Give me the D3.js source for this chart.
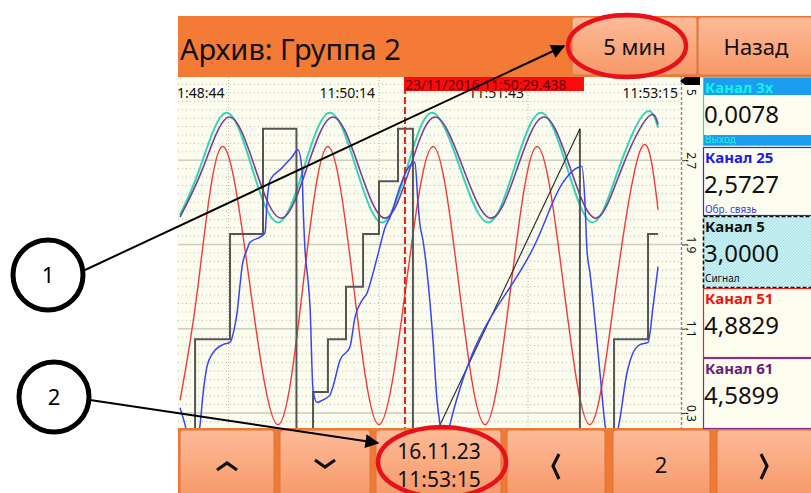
<!DOCTYPE html>
<html>
<head>
<meta charset="utf-8">
<script src="https://cdn.jsdelivr.net/npm/d3@7"></script>
<style>
  body { margin: 0; background: #fff; }
  svg { display: block; font-family: "Noto Sans", "DejaVu Sans", sans-serif; }
</style>
</head>
<body>
<svg id="chart" width="811" height="493"></svg>
<script>
// time axis: seconds since 11:48:15, window = 5 min
const timeTickSec = [29, 119, 208, 300];
const timeTickLabels = ["11:48:44", "11:50:14", "11:51:43", "11:53:15"];
const valueTicks = [0.3, 1.1, 1.9, 2.7, 3.5];
const valueTickLabels = ["0,3", "1,1", "1,9", "2,7", "5"];

// Канал 3x (teal)
const chan3x = [[0,2.18],[12,2.63],[27.5,3.15],[43,2.63],[58.6,2.11],[74.1,2.63],[89.6,3.15],[105.2,2.63],
  [120.7,2.11],[135.7,2.63],[150.6,3.15],[167.3,2.63],[184.1,2.11],[199.9,2.63],[215.7,3.15],[231.3,2.63],
  [246.8,2.11],[262.4,2.63],[277.9,3.15],[285.7,3.01]];
// Канал 61 (purple)
const chan61 = [[0,2.16],[13.8,2.63],[29.3,3.11],[44.8,2.63],[60.4,2.15],[75.9,2.63],[91.4,3.11],[107,2.63],
  [122.5,2.15],[137.5,2.63],[152.4,3.11],[169.1,2.63],[185.9,2.15],[201.7,2.63],[217.5,3.11],[233.1,2.63],
  [248.6,2.15],[264.2,2.63],[279.7,3.11],[285.7,3.04]];
// Канал 51 (red)
const chan51 = [[0,0.42],[10.8,1.51],[25.1,2.83],[41.8,1.51],[58.6,0.19],[73.5,1.51],[88.4,2.83],[103.7,1.51],
  [118.9,0.19],[135.1,1.51],[151.2,2.83],[166.7,1.51],[182.3,0.19],[197.8,1.51],[213.4,2.83],[229.2,1.51],
  [245,0.19],[260.6,1.51],[276.1,2.83],[285.7,2.23]];
// Канал 25 (blue)
const chan25 = [[0,0.35],[3,0.19],[7.2,-0.1],[12,0.19],[13.7,0.47],[16.1,0.74],[19.7,0.87],[25.7,0.95],
  [29.9,0.97],[32.3,1.09],[34.1,1.25],[35.9,1.52],[37.1,1.69],[40,1.85],[41.8,1.92],[47.8,1.97],[50.8,2.01],
  [52,2.3],[53.8,2.51],[59.8,2.61],[66.9,2.73],[70.5,2.8],[72.9,2.61],[73.5,2.3],[74.7,1.85],[76.5,1.56],
  [77.7,1.31],[79.5,0.52],[81.9,0.4],[84.9,0.42],[89.6,0.47],[91.4,0.55],[95.6,0.8],[101.6,0.93],[104.6,1.21],
  [108.8,1.37],[111.8,1.44],[114.7,1.59],[119.5,1.88],[122.5,2.06],[125.5,2.16],[131.5,2.45],[135.7,2.61],
  [140.4,2.68],[142.2,2.3],[143.4,2.09],[145.2,1.94],[151.2,0.99],[153.6,0.42],[155.4,0.19],[158.4,0],
  [161.3,0.19],[213.3,1.94],[228.9,2.49],[240.2,2.64],[242,2.3],[243.2,1.85],[245,1.63],[251,0.68],
  [254,0.19],[258.2,-0.05],[262.3,0.19],[267.1,0.68],[270.7,0.87],[274.9,0.95],[279.7,0.97],[282.7,1.31],
  [285.7,1.69]];
// Канал 5 (steps, then a ramp, then steps)
const chan5Steps1 = [[0,0.1],[9,0.1],[9,1.0],[29.9,1.0],[29.9,2.0],[49.6,2.0],[49.6,3.0],[69.6,3.0],[69.6,0.1],
  [79.5,0.1],[79.5,0.5],[88.4,0.5],[88.4,1.0],[99.2,1.0],[99.2,1.5],[109.4,1.5],[109.4,2.0],[118.9,2.0],
  [118.9,2.5],[130.3,2.5],[130.3,3.0],[139.2,3.0],[139.2,0.1],[152.8,0.1]];
const chan5Ramp = [[152.8,0.1],[239,3.0]];
const chan5Steps2 = [[239,3.0],[239,0.1],[259.4,0.1],[259.4,1.0],[279.7,1.0],[279.7,2.0],[285.7,2.0]];

const cursorSec = 134.44;
const cursorLabel = "23/11/2016 11:50:29.438";

const channelNames = ["Канал 3x", "Канал 25", "Канал 5", "Канал 51", "Канал 61"];
const channelValues = ["0,0078", "2,5727", "3,0000", "4,8829", "4,5899"];
const channelNotes = ["Выход", "Обр. связь", "Сигнал", "", ""];

const svg = d3.select("#chart");
const defs = svg.append("defs");

// button gradient
const grad = defs.append("linearGradient").attr("id", "btn").attr("x1", 0).attr("y1", 0).attr("x2", 0).attr("y2", 1);
grad.append("stop").attr("offset", "0%").attr("stop-color", "#fdbb98");
grad.append("stop").attr("offset", "100%").attr("stop-color", "#f79868");

const hatch = defs.append("pattern").attr("id", "hatch").attr("width", 3).attr("height", 3)
  .attr("patternUnits", "userSpaceOnUse");
hatch.append("rect").attr("width", 3).attr("height", 3).attr("fill", "#c9f0f2");
hatch.append("path").attr("d", "M0,3 L3,0").attr("stroke", "#a8e2e6").attr("stroke-width", 1);

defs.append("marker").attr("id", "arrow").attr("viewBox", "0 0 10 10")
  .attr("refX", 9).attr("refY", 5).attr("markerWidth", 8).attr("markerHeight", 7)
  .attr("markerUnits", "strokeWidth").attr("orient", "auto")
  .append("path").attr("d", "M0,0 L10,5 L0,10 z").attr("fill", "#000");

defs.append("clipPath").attr("id", "plotClip")
  .append("rect").attr("x", 178).attr("y", 77).attr("width", 503).attr("height", 351);

// screen frame
svg.append("rect").attr("x", 178).attr("y", 16).attr("width", 633).attr("height", 61).attr("fill", "#f47b35");
svg.append("rect").attr("x", 178).attr("y", 428).attr("width", 633).attr("height", 65).attr("fill", "#f07a34");
svg.append("rect").attr("x", 178).attr("y", 77).attr("width", 525).attr("height", 351).attr("fill", "#fdfdef");

svg.append("text").attr("x", 180).attr("y", 60).attr("font-size", 29).attr("fill", "#111")
  .text("Архив: Группа 2");

// header buttons
const headButtons = [["5 мин", 572, 125], ["Назад", 698, 116]];
headButtons.forEach(([label, bx, bw]) => {
  svg.append("rect").attr("x", bx).attr("y", 17).attr("width", bw).attr("height", 58).attr("rx", 3)
    .attr("fill", "url(#btn)").attr("stroke", "#d9753f");
  svg.append("text").attr("x", bx + bw / 2).attr("y", 55).attr("text-anchor", "middle")
    .attr("font-size", 22).attr("fill", "#111").text(label);
});

// scales
const x = d3.scaleLinear().domain([0, 300]).range([180, 682]);
const y = d3.scaleLinear().domain([0.3, 3.5]).range([413, 76]);

const plot = svg.append("g").attr("clip-path", "url(#plotClip)");

// minor dotted grid
plot.selectAll(".minor").data(d3.range(0.14, 3.5, 0.08)).enter().append("line")
  .attr("x1", 178).attr("x2", 681).attr("y1", d => y(d)).attr("y2", d => y(d))
  .attr("stroke", "#b9b9ab").attr("stroke-dasharray", "1,3");
plot.selectAll(".major").data(valueTicks.slice(0, 4)).enter().append("line")
  .attr("x1", 178).attr("x2", 681).attr("y1", d => y(d)).attr("y2", d => y(d))
  .attr("stroke", "#cfcfc0").attr("stroke-width", 1.5);
plot.selectAll(".vgrid").data(timeTickSec).enter().append("line")
  .attr("x1", d => x(d)).attr("x2", d => x(d)).attr("y1", 77).attr("y2", 428)
  .attr("stroke", "#b9b9ab").attr("stroke-dasharray", "1,2");

// time labels
plot.selectAll(".tlabel").data(timeTickSec).enter().append("text")
  .attr("x", d => x(d) - 4).attr("y", 98).attr("text-anchor", "end")
  .attr("font-size", 14).attr("fill", "#111").text((d, i) => timeTickLabels[i]);

// right border + value axis
svg.append("line").attr("x1", 681.5).attr("x2", 681.5).attr("y1", 77).attr("y2", 428)
  .attr("stroke", "#8a8a8a").attr("stroke-width", 1.5).attr("stroke-dasharray", "3,2");
const yAxis = svg.append("g").attr("transform", "translate(682,0)")
  .call(d3.axisRight(y).tickValues(valueTicks).tickSize(3).tickFormat((d, i) => valueTickLabels[i]));
yAxis.select(".domain").remove();
yAxis.selectAll("line").attr("stroke", "#333");
yAxis.selectAll("text")
  .attr("font-family", "Noto Sans").attr("font-size", 12).attr("fill", "#111")
  .attr("x", 0).attr("dy", "0.32em").attr("text-anchor", "middle")
  .attr("transform", d => `translate(9,${d === 3.5 ? 16 : 0}) rotate(90)`);
yAxis.selectAll(".tick").filter(d => d === 3.5).select("line").remove();

const line = d3.line().x(d => x(d[0])).y(d => y(d[1]));

plot.append("path").datum(chan51).attr("fill", "none").attr("stroke", "#f33a3a").attr("stroke-width", 1.4)
  .attr("d", line.curve(d3.curveNatural));
plot.append("path").datum(chan3x).attr("fill", "none").attr("stroke", "#38d5b4").attr("stroke-width", 2)
  .attr("d", line.curve(d3.curveNatural));
plot.append("path").datum(chan61).attr("fill", "none").attr("stroke", "#7d3f93").attr("stroke-width", 1.6)
  .attr("d", line.curve(d3.curveNatural));
[chan5Steps1, chan5Steps2].forEach(seg => {
  plot.append("path").datum(seg).attr("fill", "none").attr("stroke", "#555").attr("stroke-width", 2)
    .attr("d", line.curve(d3.curveLinear));
});
plot.append("path").datum(chan5Ramp).attr("fill", "none").attr("stroke", "#222").attr("stroke-width", 1.1)
  .attr("d", line.curve(d3.curveLinear));
plot.append("path").datum(chan25).attr("fill", "none").attr("stroke", "#3845f5").attr("stroke-width", 1.5)
  .attr("d", line.curve(d3.curveMonotoneX));

// cursor
svg.append("line").attr("x1", x(cursorSec)).attr("x2", x(cursorSec)).attr("y1", 77).attr("y2", 428)
  .attr("stroke", "#f21a1a").attr("stroke-width", 2).attr("stroke-dasharray", "7,3");
svg.append("rect").attr("x", x(cursorSec) - 1).attr("y", 77).attr("width", 180).attr("height", 14).attr("fill", "#fb0c0c");
svg.append("text").attr("x", x(cursorSec)).attr("y", 90).attr("font-size", 14).attr("fill", "#5e0000")
  .text(cursorLabel);

// black tag at top of axis
svg.append("path").attr("d", "M680,81 L685,77 L700,77 L700,85 L685,85 Z").attr("fill", "#000");

// channel panel
const boxTop = [77, 147, 216, 288, 358];
const boxH = [68, 68, 71, 69, 70];
const boxStroke = ["#22e0d2", "#2a2af0", "#111", "#f02020", "#7a2d8c"];
const nameFill = ["#12f2e2", "#1a1aee", "#111", "#ee1414", "#6b1d7f"];
const noteFill = ["#26ece2", "#3838ff", "#111", "", ""];
channelNames.forEach((name, i) => {
  const g = svg.append("g").attr("transform", `translate(703,${boxTop[i]})`);
  g.append("rect").attr("x", 0.5).attr("y", 0.5).attr("width", 112).attr("height", boxH[i])
    .attr("fill", i === 2 ? "url(#hatch)" : "#fdfdef").attr("stroke", boxStroke[i])
    .attr("stroke-width", i === 2 ? 1.6 : 1.2).attr("stroke-dasharray", i === 2 ? "4,2" : null);
  if (i === 0) {
    g.append("rect").attr("x", 1).attr("y", 1).attr("width", 110).attr("height", 17).attr("fill", "#1b9df0");
    g.append("rect").attr("x", 1).attr("y", 58).attr("width", 110).attr("height", 10).attr("fill", "#1b9df0");
  }
  g.append("text").attr("x", 2).attr("y", 16).attr("font-size", 15).attr("font-weight", "bold")
    .attr("fill", nameFill[i]).text(name);
  g.append("text").attr("x", 1).attr("y", 46).attr("font-size", 24).attr("fill", "#111")
    .text(channelValues[i]);
  if (channelNotes[i]) {
    g.append("text").attr("x", 2).attr("y", 66).attr("font-size", 10).attr("fill", noteFill[i])
      .text(channelNotes[i]);
  }
});

// bottom buttons
const bottomButtons = [[180, 94], [280, 90], [376, 125], [507, 98], [613, 97], [717, 96]];
bottomButtons.forEach(([bx, bw]) => {
  svg.append("rect").attr("x", bx).attr("y", 430).attr("width", bw).attr("height", 68).attr("rx", 3)
    .attr("fill", "url(#btn)").attr("stroke", "#d9753f");
});
const chevron = (d) => svg.append("path").attr("d", d).attr("fill", "none").attr("stroke", "#111")
  .attr("stroke-width", 3.2).attr("stroke-linejoin", "miter");
chevron("M217,470 L227,463 L237,470");
chevron("M315,460 L325,467 L335,460");
chevron("M559,454 L553,466 L559,479");
chevron("M761,454 L767,466 L761,479");
svg.append("text").attr("x", 439).attr("y", 459).attr("text-anchor", "middle").attr("font-size", 21)
  .attr("fill", "#111").text("16.11.23");
svg.append("text").attr("x", 439).attr("y", 487).attr("text-anchor", "middle").attr("font-size", 21)
  .attr("fill", "#111").text("11:53:15");
svg.append("text").attr("x", 661).attr("y", 473).attr("text-anchor", "middle").attr("font-size", 22)
  .attr("fill", "#111").text("2");

// annotations
svg.append("ellipse").attr("cx", 627).attr("cy", 46).attr("rx", 59).attr("ry", 31)
  .attr("fill", "none").attr("stroke", "#e8101a").attr("stroke-width", 4.5);
svg.append("ellipse").attr("cx", 442).attr("cy", 462).attr("rx", 64).attr("ry", 35)
  .attr("fill", "none").attr("stroke", "#e8101a").attr("stroke-width", 4.5);

svg.append("line").attr("x1", 85).attr("y1", 270).attr("x2", 564).attr("y2", 46)
  .attr("stroke", "#000").attr("stroke-width", 2).attr("marker-end", "url(#arrow)");
svg.append("line").attr("x1", 90).attr("y1", 400).attr("x2", 378).attr("y2", 443)
  .attr("stroke", "#000").attr("stroke-width", 2).attr("marker-end", "url(#arrow)");

[[48, 275, "1"], [54, 397, "2"]].forEach(([cx, cy, n]) => {
  svg.append("circle").attr("cx", cx).attr("cy", cy).attr("r", 35)
    .attr("fill", "#fff").attr("stroke", "#000").attr("stroke-width", 5);
  svg.append("text").attr("x", cx).attr("y", cy + 8).attr("text-anchor", "middle")
    .attr("font-size", 22).attr("fill", "#000").text(n);
});
</script>
</body>
</html>
